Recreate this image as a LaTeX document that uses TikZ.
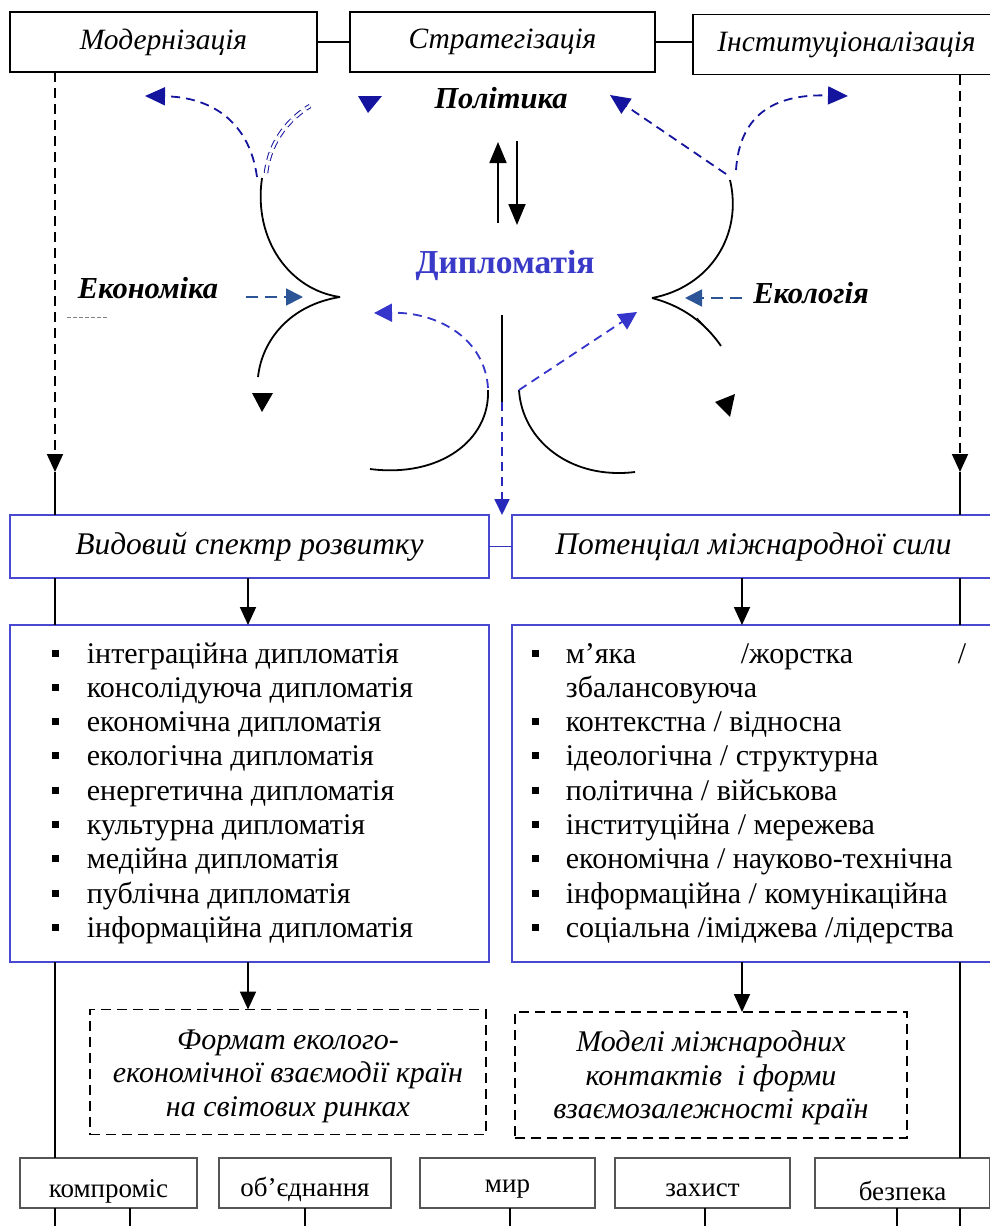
\documentclass[tikz,border=0pt]{standalone}
\usepackage{fontspec}
\setmainfont{Liberation Serif}
\usetikzlibrary{arrows.meta}
\definecolor{navy}{HTML}{14149E}
\definecolor{midblue}{HTML}{3535CC}
\definecolor{steel}{HTML}{2C5597}
\definecolor{boxblue}{HTML}{4848D0}
\definecolor{dipl}{HTML}{3A3AC8}
\definecolor{greybox}{HTML}{555555}
\begin{document}
\begin{tikzpicture}[x=1pt,y=-1pt,line width=1.8pt,
  tri/.style={-{Triangle[length=18pt,width=16pt]}},
  dsh/.style={dash pattern=on 10pt off 6pt},
  topbox/.style={draw,fill=white,minimum height=60pt,inner sep=0pt,outer sep=0pt,font=\fontsize{29.5}{34}\selectfont\itshape},
  midbox/.style={draw=boxblue,fill=white,minimum height=63pt,inner sep=0pt,outer sep=0pt,font=\fontsize{31.5}{34}\selectfont\itshape},
  listbox/.style={draw=boxblue,fill=white,minimum height=337pt,inner sep=0pt,outer sep=0pt},
  dbox/.style={draw,dsh,fill=white,inner sep=0pt,outer sep=0pt},
  dtxt/.style={inner sep=0pt,align=center,font=\fontsize{30}{33.5}\selectfont\itshape},
  botbox/.style={draw=greybox,line width=2pt,fill=white,minimum height=50pt,inner sep=0pt,outer sep=0pt},
  botlbl/.style={anchor=base,inner sep=0pt,font=\fontsize{27}{30}\selectfont},
  listtxt/.style={anchor=base west,inner sep=0pt,font=\fontsize{30}{34}\selectfont},
  bullet/.style={fill,minimum size=7pt,inner sep=0pt},
  bigtxt/.style={inner sep=0pt,font=\fontsize{30.5}{34}\selectfont\bfseries\itshape}
]
\useasboundingbox (0,0) rectangle (990,1226);

% top boxes
\node[topbox,minimum width=307pt] (mod) at (163.5,42) {Модернізація};
\node[topbox,minimum width=305pt] (str) at (502.5,42) {Стратегізація};
\node[topbox,minimum width=307pt] (inst) at (846.5,44.5) {Інституціоналізація};
\draw (mod.east) -- (str.west);
\draw (str.east) -- (str.east -| inst.west);

% middle boxes
\node[midbox,minimum width=479pt] (vid) at (249.5,546.5) {Видовий спектр розвитку};
\node[midbox,minimum width=483pt] (pot) at (753.5,546.5) {Потенціал міжнародної сили};
\draw[boxblue!60!navy] (vid.east) -- (pot.west);

% list boxes
\node[listbox,minimum width=479pt] (listL) at (249.5,793.5) {};
\node[listbox,minimum width=483pt] (listR) at (753.5,793.5) {};

\foreach \t [count=\i from 0] in {інтеграційна дипломатія,консолідуюча дипломатія,економічна дипломатія,екологічна дипломатія,енергетична дипломатія,культурна дипломатія,медійна дипломатія,публічна дипломатія,інформаційна дипломатія}{
  \node[listtxt] (li\i) at (86,{663+34.3*\i}) {\t};
  \node[bullet] (lb\i) at (55,{653+34.3*\i}) {};
}
\node[listtxt] (r0a) at (565,663) {м’яка};
\node[listtxt] (r0b) at (740,663) {/жорстка};
\node[listtxt] (r0c) at (957,663) {/};
\node[bullet] (rb0) at (535.5,653) {};
\node[listtxt] (r1) at (565,697) {збалансовуюча};
\foreach \t [count=\i from 2] in {контекстна / відносна,ідеологічна / структурна,політична / військова,інституційна / мережева,економічна / науково-технічна,інформаційна / комунікаційна,соціальна /іміджева /лідерства}{
  \node[listtxt] (ri\i) at (565,{663+34.3*\i}) {\t};
  \node[bullet] (rb\i) at (535.5,{653+34.3*\i}) {};
}

% dashed boxes
\node[dbox,minimum width=396pt,minimum height=125pt] (dL) at (288,1072) {};
\node[dbox,minimum width=392pt,minimum height=126pt] (dR) at (711,1075) {};
\node[dtxt] (dLT) at (288,1076) {Формат еколого-\\економічної взаємодії країн\\на світових ринках};
\node[dtxt] (dRT) at (711,1078) {Моделі міжнародних\\контактів\ \ і форми\\взаємозалежності країн};

% bottom boxes
\node[botbox,minimum width=177pt] (komp) at (108.5,1183) {};
\node[botbox,minimum width=172pt] (obj) at (305,1183) {};
\node[botbox,minimum width=175pt] (myr) at (507.5,1183) {};
\node[botbox,minimum width=175pt] (zah) at (702.5,1183) {};
\node[botbox,minimum width=175pt] (bez) at (902.5,1183) {};
\node[botlbl] (kompT) at (komp.center |- 0,1197) {компроміс};
\node[botlbl] (objT) at (obj.center |- 0,1196) {об’єднання};
\node[botlbl] (myrT) at (myr.center |- 0,1192) {мир};
\node[botlbl] (zahT) at (zah.center |- 0,1196) {захист};
\node[botlbl] (bezT) at (bez.center |- 0,1200) {безпека};

% long side lines
\coordinate (Lt) at (55,472);
\coordinate (Rt) at (960,472);
\coordinate (Lb) at (55,1226);
\coordinate (Rb) at (960,1226);
\draw[dsh,tri] (mod.south -| Lt) -- (Lt);
\draw (Lt) -- (vid.north -| Lt);
\draw (vid.south -| Lt) -- (listL.north -| Lt);
\draw (listL.south -| Lt) -- (komp.north -| Lt);
\draw (komp.south -| Lt) -- (Lb);
\draw[dsh,tri] (inst.south -| Rt) -- (Rt);
\draw (Rt) -- (pot.north -| Rt);
\draw (pot.south -| Rt) -- (listR.north -| Rt);
\draw (listR.south -| Rt) -- (bez.north -| Rt);
\draw (bez.south -| Rt) -- (Rb);

% lines below bottom boxes
\coordinate (b1) at (130,1226);
\coordinate (b2) at (305,1226);
\coordinate (b3) at (510,1226);
\coordinate (b4) at (705,1226);
\coordinate (b5) at (897,1226);
\draw (komp.south -| b1) -- (b1);
\draw (obj.south -| b2) -- (b2);
\draw (myr.south -| b3) -- (b3);
\draw (zah.south -| b4) -- (b4);
\draw (bez.south -| b5) -- (b5);

% arrows between boxes
\coordinate (aL) at (248,0);
\coordinate (aR) at (742,0);
\draw[tri] (vid.south -| aL) -- (listL.north -| aL);
\draw[tri] (pot.south -| aR) -- (listR.north -| aR);
\draw[tri] (listL.south -| aL) -- (dL.north -| aL);
\draw[tri] (listR.south -| aR) -- (dR.north -| aR);

% central labels
\node[bigtxt] (pol) at (501,98) {Політика};
\node[inner sep=0pt,text=dipl,font=\fontsize{33.5}{36}\selectfont\bfseries] (dip) at (505,265) {Дипломатія};
\node[bigtxt] (eko) at (148,288) {Економіка};
\node[bigtxt] (ekl) at (811,293) {Екологія};

% up/down arrows
\coordinate (u1) at (498,223);
\coordinate (u2) at (498,142);
\coordinate (d1) at (517,141);
\coordinate (d2) at (517,225);
\draw[-{Triangle[length=21pt,width=17pt]}] (u1) -- (u2);
\draw[-{Triangle[length=21pt,width=17pt]}] (d1) -- (d2);

% cusp curves left
\coordinate (cl) at (340,297);
\draw (262,178) .. controls (253,240) and (290,290) .. (cl);
\draw (cl) .. controls (290,305) and (262,340) .. (258,377);
\fill (252,393) -- (273,393) -- (262,412) -- cycle;
% cusp curves right
\coordinate (cr) at (652,298);
\draw (730,180) .. controls (743,235) and (710,287) .. (cr);
\draw (cr) .. controls (690,308) and (710,330) .. (721,346);
\draw[line width=0.9pt] (697,318) -- (716,339);
\fill (715,402) -- (735,394) -- (730,417) -- cycle;
% bottom arcs
\draw (488,390) .. controls (490,440) and (440,478) .. (370,469);
\draw (519,390) .. controls (522,440) and (570,480) .. (635,472);

% centre vertical
\coordinate (cv1) at (502,315);
\coordinate (cv2) at (502,402);
\draw (cv1) -- (cv2);
\draw[midblue!60!navy,dash pattern=on 9pt off 6pt,-{Triangle[length=16pt,width=15pt]}] (cv2) -- (vid.north -| cv2);

% economy / ecology arrows
\coordinate (ea) at (246,297);
\coordinate (ela) at (742,298);
\draw[steel,dash pattern=on 12pt off 7pt,-{Triangle[length=17pt,width=17pt]},shorten >=37pt] (ea) -- (cl);
\draw[steel,dash pattern=on 12pt off 7pt,-{Triangle[length=17pt,width=17pt]},shorten >=33pt] (ela) -- (cr);
\draw[line width=0.6pt,dash pattern=on 4pt off 2pt,gray] (67,317) -- (108,317);

% blue dashed arrows, bottom centre
\draw[midblue,dash pattern=on 9pt off 6pt,-{Triangle[length=18pt,width=18pt]}] (488,388) .. controls (485,340) and (440,312) .. (374,313);
\draw[midblue,dash pattern=on 9pt off 6pt,-{Triangle[length=18pt,width=18pt]}] (519,390) -- (637,312);

% blue dashed arrows, top
\draw[navy,dash pattern=on 9pt off 6pt,-{Triangle[length=20pt,width=18pt]}] (257,177) .. controls (250,125) and (215,97) .. (145,96);
\draw[navy,line width=1pt,double=white,double distance=2.5pt,dash pattern=on 8pt off 5pt] (266,173) .. controls (270,140) and (290,118) .. (310,106);
\fill[navy] (358,96) -- (382,96) -- (368,113) -- cycle;
\draw[navy,dash pattern=on 9pt off 6pt,-{Triangle[length=20pt,width=18pt]}] (726,174) -- (610,95);
\draw[navy,dash pattern=on 9pt off 6pt,-{Triangle[length=20pt,width=18pt]}] (736,170) .. controls (740,110) and (780,94) .. (848,96);
\end{tikzpicture}
\end{document}
